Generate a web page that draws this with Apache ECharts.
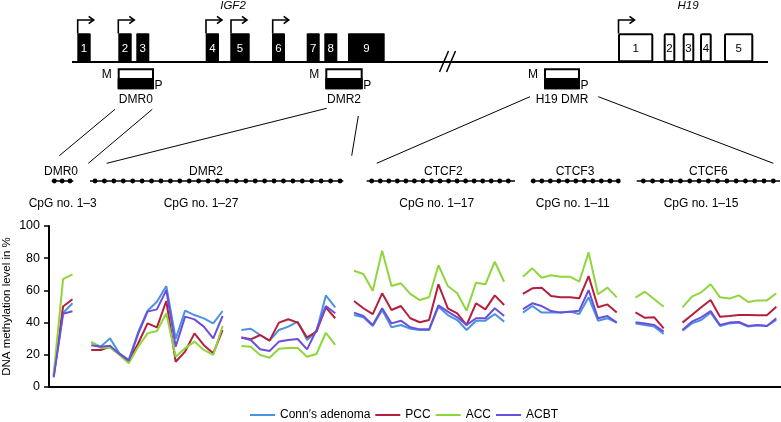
<!DOCTYPE html>
<html>
<head>
<meta charset="utf-8">
<script src="https://cdn.jsdelivr.net/npm/echarts@6/dist/echarts.min.js"></script>
<style>
html,body{margin:0;padding:0;background:#fff;}
#chart{width:781px;height:422px;}
</style>
</head>
<body>
<div id="chart"></div>
<script>
// ---- Data ----
const regionNames = ['DMR0', 'DMR2', 'CTCF2', 'CTCF3', 'CTCF6'];
const regionSlots = [3, 27, 17, 11, 16];
const seriesNames = ['Conn\u2032s adenoma', 'PCC', 'ACC', 'ACBT'];
const yTicks = [0, 20, 40, 60, 80, 100];

// one empty slot between regions (null = no value)
const conn = [7, 46, 52, null,
  27.7, 25, 30.2, 21, 16.8, 34, 47.4, 53, 62.7, 30, 47.4, 44.7, 42.6, 39.5, 47.2, null, 35.4, 36.2, 32.3, 28.8, 35.4, 37.5, 40.6, 29.2, 34.4, 56.9, 49.5, null,
  44.7, 43.3, 37.9, 47.8, 37.1, 38.5, 36.2, 35.4, 35.4, 49.9, 44.7, 41.6, 35.4, 41.2, 41.2, 45.3, 40.6, null,
  46.2, 50.3, 46.2, 46.2, 46.2, 46.8, 45.3, 55.7, 41.2, 42.7, 40, null,
  39.5, 38.5, 37.5, 32.9, null, 35, 39.5, 41.6, 46.2, 37.9, 39.5, 40, 37.5, 38.3, 37.9, 41.6];
const pcc = [7, 50, 54.5, null,
  23, 23, 25, 20.5, 16.4, 27, 39.5, 37, 53.4, 15.7, 22, 33.3, 26, 20.9, 35.4, null, 30.8, 29.6, 32.3, 28.8, 40, 42.1, 40, 30.8, 34.4, 49.5, 42.7, null,
  53.4, 48.9, 45.3, 58.2, 47.8, 50.3, 42.7, 40.2, 41.6, 63.8, 48.9, 45.8, 38.5, 52, 48.2, 56.9, 50.9, null,
  57.8, 61.3, 61.7, 56.5, 55.7, 55.7, 55.1, 68.9, 49.5, 51.3, 46.2, null,
  46.4, 43, 43.3, 36.4, null, 40, 44.7, 49.5, 54, 43.7, 44.1, 44.7, 44.7, 44.5, 44.5, 49.9];
const acc = [8, 67, 70, null,
  28, 24.3, 24.6, 20, 14.7, 25, 33.3, 34.8, 45.8, 18.8, 24, 28.2, 23, 19.9, 37.9, null, 25.5, 25, 19.9, 18.2, 23.8, 24.2, 24.2, 18.8, 20.5, 33.7, 26.1, null,
  72.2, 70.2, 59.8, 84.7, 62.7, 64.4, 57.8, 54, 55.7, 75.6, 62.7, 58.2, 47.4, 64.8, 63.8, 77.8, 65.4, null,
  68.5, 73.7, 67.9, 69.4, 68.5, 68.5, 65.4, 83.6, 57.6, 61.7, 55.7, null,
  55.5, 59.2, 54.5, 49.9, null, 49.5, 56.1, 58.8, 63.8, 55.7, 54.9, 56.9, 52.8, 53.8, 53.8, 58.2];
const acbt = [6, 45.5, 47, null,
  25.9, 25, 25.6, 20.5, 16.4, 33, 46.8, 48.2, 60.2, 25, 43.7, 42, 37.5, 30.2, 44.1, null, 30.8, 29.2, 23.4, 22.4, 28.2, 29.2, 29.8, 23.4, 35.4, 50.3, 45.8, null,
  46.2, 44.1, 38.5, 48.9, 39.5, 41.2, 37.1, 35.8, 35.8, 50.7, 46.8, 43.3, 38.5, 42.7, 42.7, 48.9, 44.1, null,
  48.4, 52, 50.3, 47.2, 46.2, 46.8, 47.4, 60.2, 42.7, 44.1, 40, null,
  40.2, 39.5, 38.5, 34.4, null, 35.4, 40.6, 43.3, 47.2, 38.5, 40, 40.4, 37.9, 38.5, 37.9, 42.7];

// categories: every CpG slot, with a spacer between regions
const categories = [];
regionNames.forEach((r, i) => {
  for (let k = 1; k <= regionSlots[i]; k++) categories.push(r + ' CpG ' + k);
  if (i < regionNames.length - 1) categories.push('gap ' + (i + 1));
});

const colors = ['#4a93e0', '#b51f3c', '#8fd63c', '#6b4fdc'];
const FONT = '"Liberation Sans", Arial, Helvetica, sans-serif';

// ---- Gene diagram (graphic) ----
const g = [];
function ln(x1, y1, x2, y2, w) { g.push({type:'line', silent:true, shape:{x1, y1, x2, y2}, style:{stroke:'#000', lineWidth:w||1}}); }
function pl(pts, w) { g.push({type:'polyline', silent:true, shape:{points:pts}, style:{stroke:'#000', fill:null, lineWidth:w||1.5}}); }
function rc(x, y, w, h, fill, stroke, lw) { g.push({type:'rect', silent:true, shape:{x, y, width:w, height:h, r:1}, style:{fill, stroke:stroke||null, lineWidth:lw||0}}); }
function tx(x, y, t, size, color, italic) {
  g.push({type:'text', silent:true, style:{text:t, x, y, fill:color||'#000',
    font:(italic?'italic ':'') + size + 'px ' + FONT,
    align:'center', verticalAlign:'middle', textAlign:'center', textVerticalAlign:'middle'}});
}

// main chromosome line and break
ln(72, 62, 768, 62, 2);
ln(439.5, 72, 448.5, 51, 1.5);
ln(446.5, 72, 455.5, 51, 1.5);

// IGF2 exons
const igf2Ex = [[77.3,90.7],[118.3,131.7],[136.3,149.3],[205.7,219],[230.3,249.7],[272,285],[306.7,319.7],[324.3,337.3],[348,384.7]];
igf2Ex.forEach((e, i) => { rc(e[0], 33.3, e[1]-e[0], 28.7, '#000'); tx((e[0]+e[1])/2, 48.5, String(i+1), 11.5, '#fff'); });
// H19 exons
const h19Ex = [[618,653.3],[663.7,675.3],[682.7,694.3],[700,711.7],[724,753.3]];
h19Ex.forEach((e, i) => { rc(e[0]+1, 34.3, e[1]-e[0]-2, 27, '#fff', '#000', 2); tx((e[0]+e[1])/2, 48.5, String(i+1), 11.5, '#000'); });
// promoter arrows
[77.7, 118.3, 206, 231, 272.7, 618.5].forEach(x => {
  pl([[x, 33.5], [x, 20], [x + 16, 20]], 1.6);
  pl([[x + 11, 16.3], [x + 16, 20], [x + 11, 23.7]], 1.6);
});
tx(233, 6, 'IGF2', 11.5, '#000', true);
tx(688, 6, 'H19', 11.5, '#000', true);

// DMR boxes
[[117.7, 154, 'DMR0'], [325.3, 362.7, 'DMR2'], [544, 580, 'H19 DMR']].forEach(b => {
  rc(b[0], 78, b[1]-b[0], 11.3, '#000');
  g.push({type:'rect', silent:true, shape:{x:b[0]+1, y:69.3, width:b[1]-b[0]-2, height:18.9}, style:{fill:null, stroke:'#000', lineWidth:2}});
  tx(b[0] - 11, 75, 'M', 12);
  tx(b[1] + 4.5, 86, 'P', 12);
  tx((b[0]+b[1])/2, 99.3, b[2], 12);
});

// connector lines
ln(115, 109.3, 59.3, 155.7);
ln(152.3, 109.3, 88.3, 163.3);
ln(326.7, 108.3, 106.7, 163.3);
ln(358.3, 116, 351.7, 155.7);
ln(530, 96.7, 376.7, 163.3);
ln(598.3, 96.7, 773.3, 163.3);

// CpG dot diagrams
const cpgCounts = [3, 27, 17, 11, 15];
const cpgLabels = ['CpG no. 1\u20133', 'CpG no. 1\u201327', 'CpG no. 1\u201317', 'CpG no. 1\u201311', 'CpG no. 1\u201315'];
const cpgGeom = [
  {l0:51.7, l1:73.3, d0:54.3, d1:70, tx:61, bx:62.7},
  {l0:90, l1:343.3, d0:95, d1:340, tx:206, bx:201},
  {l0:366.7, l1:515, d0:371.7, d1:508.3, tx:443.3, bx:436.7},
  {l0:530.7, l1:620, d0:533.3, d1:618.3, tx:575, bx:572.7},
  {l0:636.7, l1:780, d0:643.3, d1:773.3, tx:708.3, bx:701}
];
cpgGeom.forEach((c, i) => {
  ln(c.l0, 181, c.l1, 181, 1.5);
  const n = cpgCounts[i];
  for (let k = 0; k < n; k++) {
    const x = c.d0 + (c.d1 - c.d0) * k / (n - 1);
    g.push({type:'circle', silent:true, shape:{cx:x, cy:181, r:2.4}, style:{fill:'#000'}});
  }
  tx(c.tx, 171.5, regionNames[i], 12);
  tx(c.bx, 203.3, cpgLabels[i], 12);
});

// ---- Chart ----
const chart = echarts.init(document.getElementById('chart'), null, {renderer:'canvas'});
const dataSets = [conn, pcc, acc, acbt];
chart.setOption({
  animation: false,
  backgroundColor: '#fff',
  textStyle: {fontFamily: FONT},
  color: colors,
  grid: {left: 49, right: 0, top: 226, bottom: 35, containLabel: false, outerBoundsMode: 'none'},
  legend: {
    data: seriesNames, left: 245, top: 404, icon: 'rect', itemWidth: 25, itemHeight: 2, itemGap: 5,
    textStyle: {fontSize: 12, color: '#000', fontFamily: FONT}
  },
  xAxis: {
    type: 'category', data: categories, boundaryGap: true,
    axisLine: {show: true, lineStyle: {color: '#000', width: 2}},
    axisTick: {show: false}, axisLabel: {show: false}, splitLine: {show: false}
  },
  yAxis: {
    type: 'value', min: yTicks[0], max: yTicks[yTicks.length - 1], interval: 20,
    name: 'DNA methylation level in %', nameLocation: 'middle', nameGap: 36, nameMoveOverlap: false,
    nameTextStyle: {fontSize: 11.5, color: '#000', fontFamily: FONT},
    axisLine: {show: true, lineStyle: {color: '#000', width: 2}},
    axisTick: {show: true, length: 5, lineStyle: {color: '#000', width: 1.5}},
    axisLabel: {fontSize: 12.5, color: '#000', margin: 9, fontFamily: FONT},
    splitLine: {show: false}
  },
  graphic: g,
  series: seriesNames.map((name, i) => ({
    name, type: 'line', data: dataSets[i], symbol: 'none', connectNulls: false,
    lineStyle: {width: 2, color: colors[i]}, itemStyle: {color: colors[i]}
  }))
});
</script>
</body>
</html>
